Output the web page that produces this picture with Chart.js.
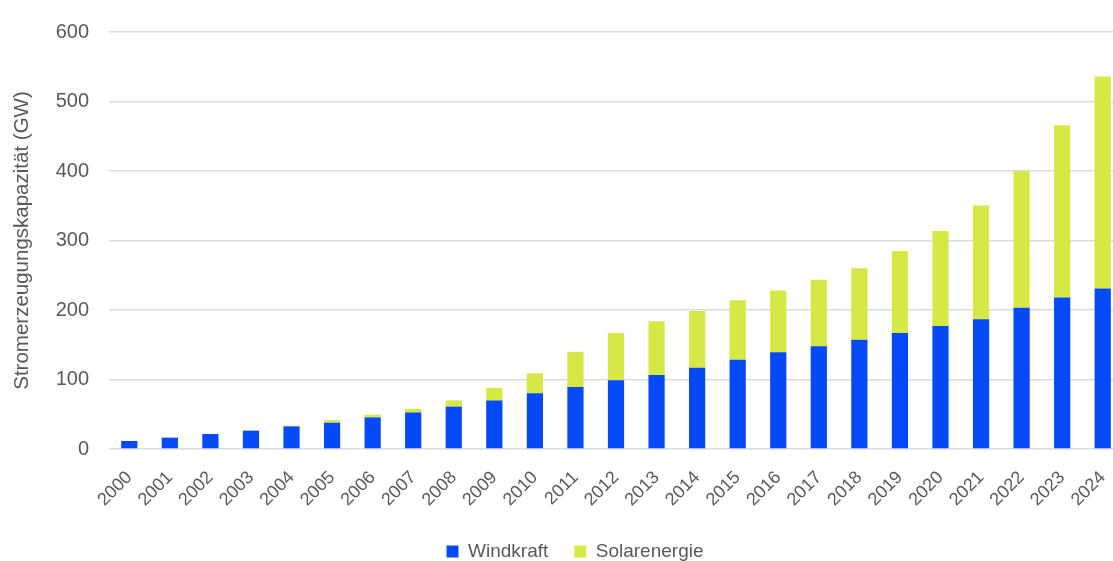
<!DOCTYPE html>
<html lang="de">
  <head>
    <meta charset="UTF-8" />
    <title>Stromerzeugungskapazität</title>
    <script src="https://cdn.jsdelivr.net/npm/chart.js"></script>
    <style>
      html, body { margin: 0; padding: 0; background: #fff; overflow: hidden; }
      #wrap { width: 1128px; height: 561px; }
    </style>
  </head>
  <body>
    <div id="wrap"><canvas id="chart"></canvas></div>
    <script>
      // Werte in GW
      const years = ["2000", "2001", "2002", "2003", "2004", "2005", "2006", "2007", "2008", "2009",
        "2010", "2011", "2012", "2013", "2014", "2015", "2016", "2017", "2018", "2019",
        "2020", "2021", "2022", "2023", "2024"];
      const wind = [11.5, 16.3, 21.5, 26.3, 32.5, 37.8, 45.5, 52.6, 61, 69.9,
        80.3, 89.1, 99, 106.6, 117, 128.4, 139.3, 147.9, 157.3, 166.8,
        176.8, 186.7, 203.3, 218, 230.8];
      const solar = [0.2, 0.3, 0.4, 0.6, 1.2, 3.8, 3.8, 5.3, 9, 18.1,
        28.6, 50.7, 67.8, 77.3, 81.6, 85.8, 88.7, 95.7, 102.7, 118,
        136.9, 163.5, 196.2, 247.7, 305];
      const yTicks = [0, 100, 200, 300, 400, 500, 600];

      const textColor = "#595959";
      const font = "'Liberation Sans', Arial, sans-serif";

      // the canvas is a bit wider than the window, so nudge the legend back to the visible middle
      const legendShift = {
        id: "legendShift",
        afterLayout(chart) {
          const lg = chart.legend;
          lg.left += 11;
          lg.right += 11;
          lg.top += 10;
          lg.bottom += 10;
        },
      };

      new Chart(document.getElementById("chart"), {
        type: "bar",
        data: {
          labels: years,
          datasets: [
            { label: "Windkraft", data: wind, backgroundColor: "#0549f7" },
            { label: "Solarenergie", data: solar, backgroundColor: "#d5e845" },
          ],
        },
        options: {
          responsive: true,
          maintainAspectRatio: false,
          animation: false,
          barPercentage: 0.4,
          categoryPercentage: 1,
          layout: { autoPadding: false, padding: { top: 28, left: 0, right: 0, bottom: 0 } },
          plugins: {
            tooltip: { enabled: false },
            legend: {
              position: "bottom",
              labels: {
                boxWidth: 12,
                boxHeight: 12,
                padding: 26,
                color: textColor,
                font: { family: font, size: 19 },
              },
            },
          },
          scales: {
            x: {
              stacked: true,
              grid: { display: false },
              border: { display: false },
              ticks: {
                minRotation: 45,
                maxRotation: 45,
                padding: 10,
                color: textColor,
                font: { family: font, size: 18 },
              },
              afterFit: (s) => { s.height = 57; },
            },
            y: {
              stacked: true,
              min: 0,
              max: 600,
              afterBuildTicks: (s) => { s.ticks = yTicks.map((v) => ({ value: v })); },
              grid: { color: "#dcdcdc", lineWidth: 1.5, drawTicks: false },
              border: { display: false },
              ticks: {
                padding: 20,
                color: textColor,
                font: { family: font, size: 20 },
              },
              title: {
                display: true,
                text: "Stromerzeugungskapazität (GW)",
                color: textColor,
                padding: { top: 10, bottom: 0 },
                font: { family: font, size: 20.5 },
              },
              afterFit: (s) => { s.width = 109; },
            },
          },
        },
        plugins: [legendShift],
      });
    </script>
  </body>
</html>
